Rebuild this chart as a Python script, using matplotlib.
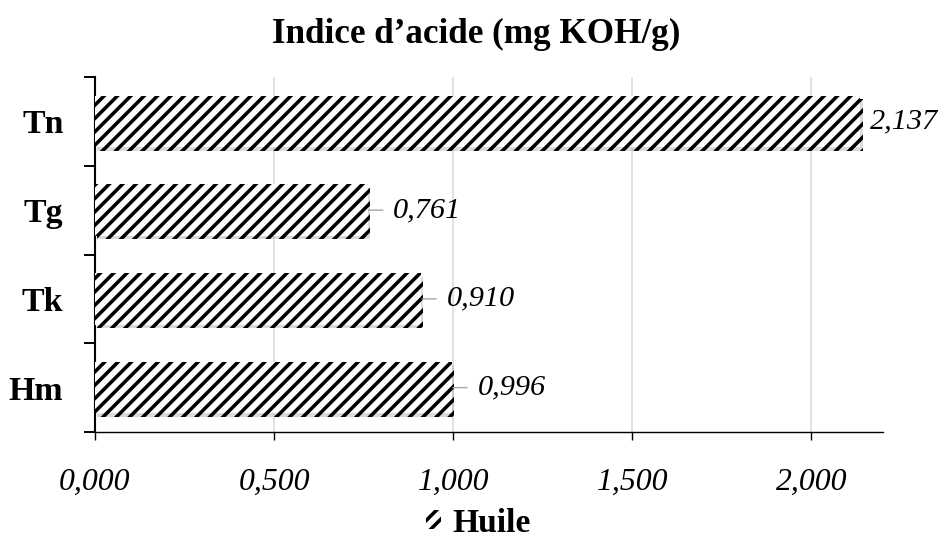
import matplotlib
matplotlib.use("Agg")
import matplotlib.pyplot as plt
import matplotlib.patheffects as pe
from matplotlib.patches import Patch

# Data
categories = ["Tn", "Tg", "Tk", "Hm"]
values = [2.137, 0.761, 0.910, 0.996]
value_labels = ["2,137", "0,761", "0,910", "0,996"]
xticks = [0.0, 0.5, 1.0, 1.5, 2.0]
xtick_labels = ["0,000", "0,500", "1,000", "1,500", "2,000"]
series_name = "Huile"
title = "Indice d\u2019acide (mg KOH/g)"

# Label placement (points from bar end) and whether a leader line is drawn
label_offsets = [8.4, 23.1, 23.1, 23.1]
label_leaders = [False, True, True, True]

DPI = 80
plt.rcParams["font.family"] = ["Liberation Serif", "DejaVu Serif"]
plt.rcParams["hatch.linewidth"] = 3.2
plt.rcParams["hatch.color"] = "black"

fig = plt.figure(figsize=(947 / DPI, 542 / DPI), dpi=DPI)
ax = fig.add_axes([95 / 947, 1 - 432 / 542, 788 / 947, 355 / 542])

ypos = list(range(len(categories)))
bars = ax.barh(ypos, values, height=0.58, color="white", edgecolor="black",
               linewidth=0, hatch="//", zorder=3)
for b in bars:
    b.set_path_effects([
        pe.SimplePatchShadow(offset=(1.9, -3.1), shadow_rgbFace="#9a9a9a", alpha=0.35),
        pe.Normal(),
    ])

ax.set_xlim(0, 2.2)
ax.set_ylim(len(categories) - 0.5, -0.5)

# Vertical gridlines
ax.set_xticks(xticks)
ax.set_xticklabels(xtick_labels, fontsize=28.6, style="italic")
ax.xaxis.grid(True, color="#d9d9d9", linewidth=1.4, zorder=0)
ax.set_axisbelow(True)
ax.tick_params(axis="x", direction="out", length=7.4, width=1.25, pad=24.6,
               color="black")

# Category labels at centers, boundary ticks between categories
ax.set_yticks(ypos)
ax.set_yticklabels(categories, fontsize=30.5, fontweight="bold")
ax.set_yticks([i - 0.5 for i in range(len(categories) + 1)], minor=True)
ax.tick_params(axis="y", which="major", length=0, pad=28.4)
ax.tick_params(axis="y", which="minor", direction="out", length=9.5, width=1.75,
               color="black")

for s in ["top", "right"]:
    ax.spines[s].set_visible(False)
ax.spines["left"].set_linewidth(1.9)
ax.spines["bottom"].set_linewidth(1.25)

# Value labels
for y, v, lab, off, lead in zip(ypos, values, value_labels, label_offsets, label_leaders):
    arrow = None
    if lead:
        arrow = dict(arrowstyle="-", color="#a6a6a6", lw=1.25,
                     shrinkA=7.4, shrinkB=1, relpos=(0, 0.5))
    ax.annotate(lab, xy=(v, y), xytext=(off, 0), textcoords="offset points",
                ha="left", va="center", fontsize=27.25, style="italic",
                arrowprops=arrow, zorder=4)

fig.suptitle(title, x=0.503, y=1 - 34 / 542, va="center", fontsize=31.6,
             fontweight="bold")

handle = Patch(facecolor="white", edgecolor="black", linewidth=0, hatch="//")
fig.legend([handle], [series_name], loc="center",
           bbox_to_anchor=(0.505, 1 - 523 / 542), frameon=False,
           prop=dict(size=30.25, weight="bold"), handlelength=0.45,
           handleheight=0.45, handletextpad=0.35, borderpad=0)

fig.savefig("out.png", dpi=DPI, facecolor="white")
